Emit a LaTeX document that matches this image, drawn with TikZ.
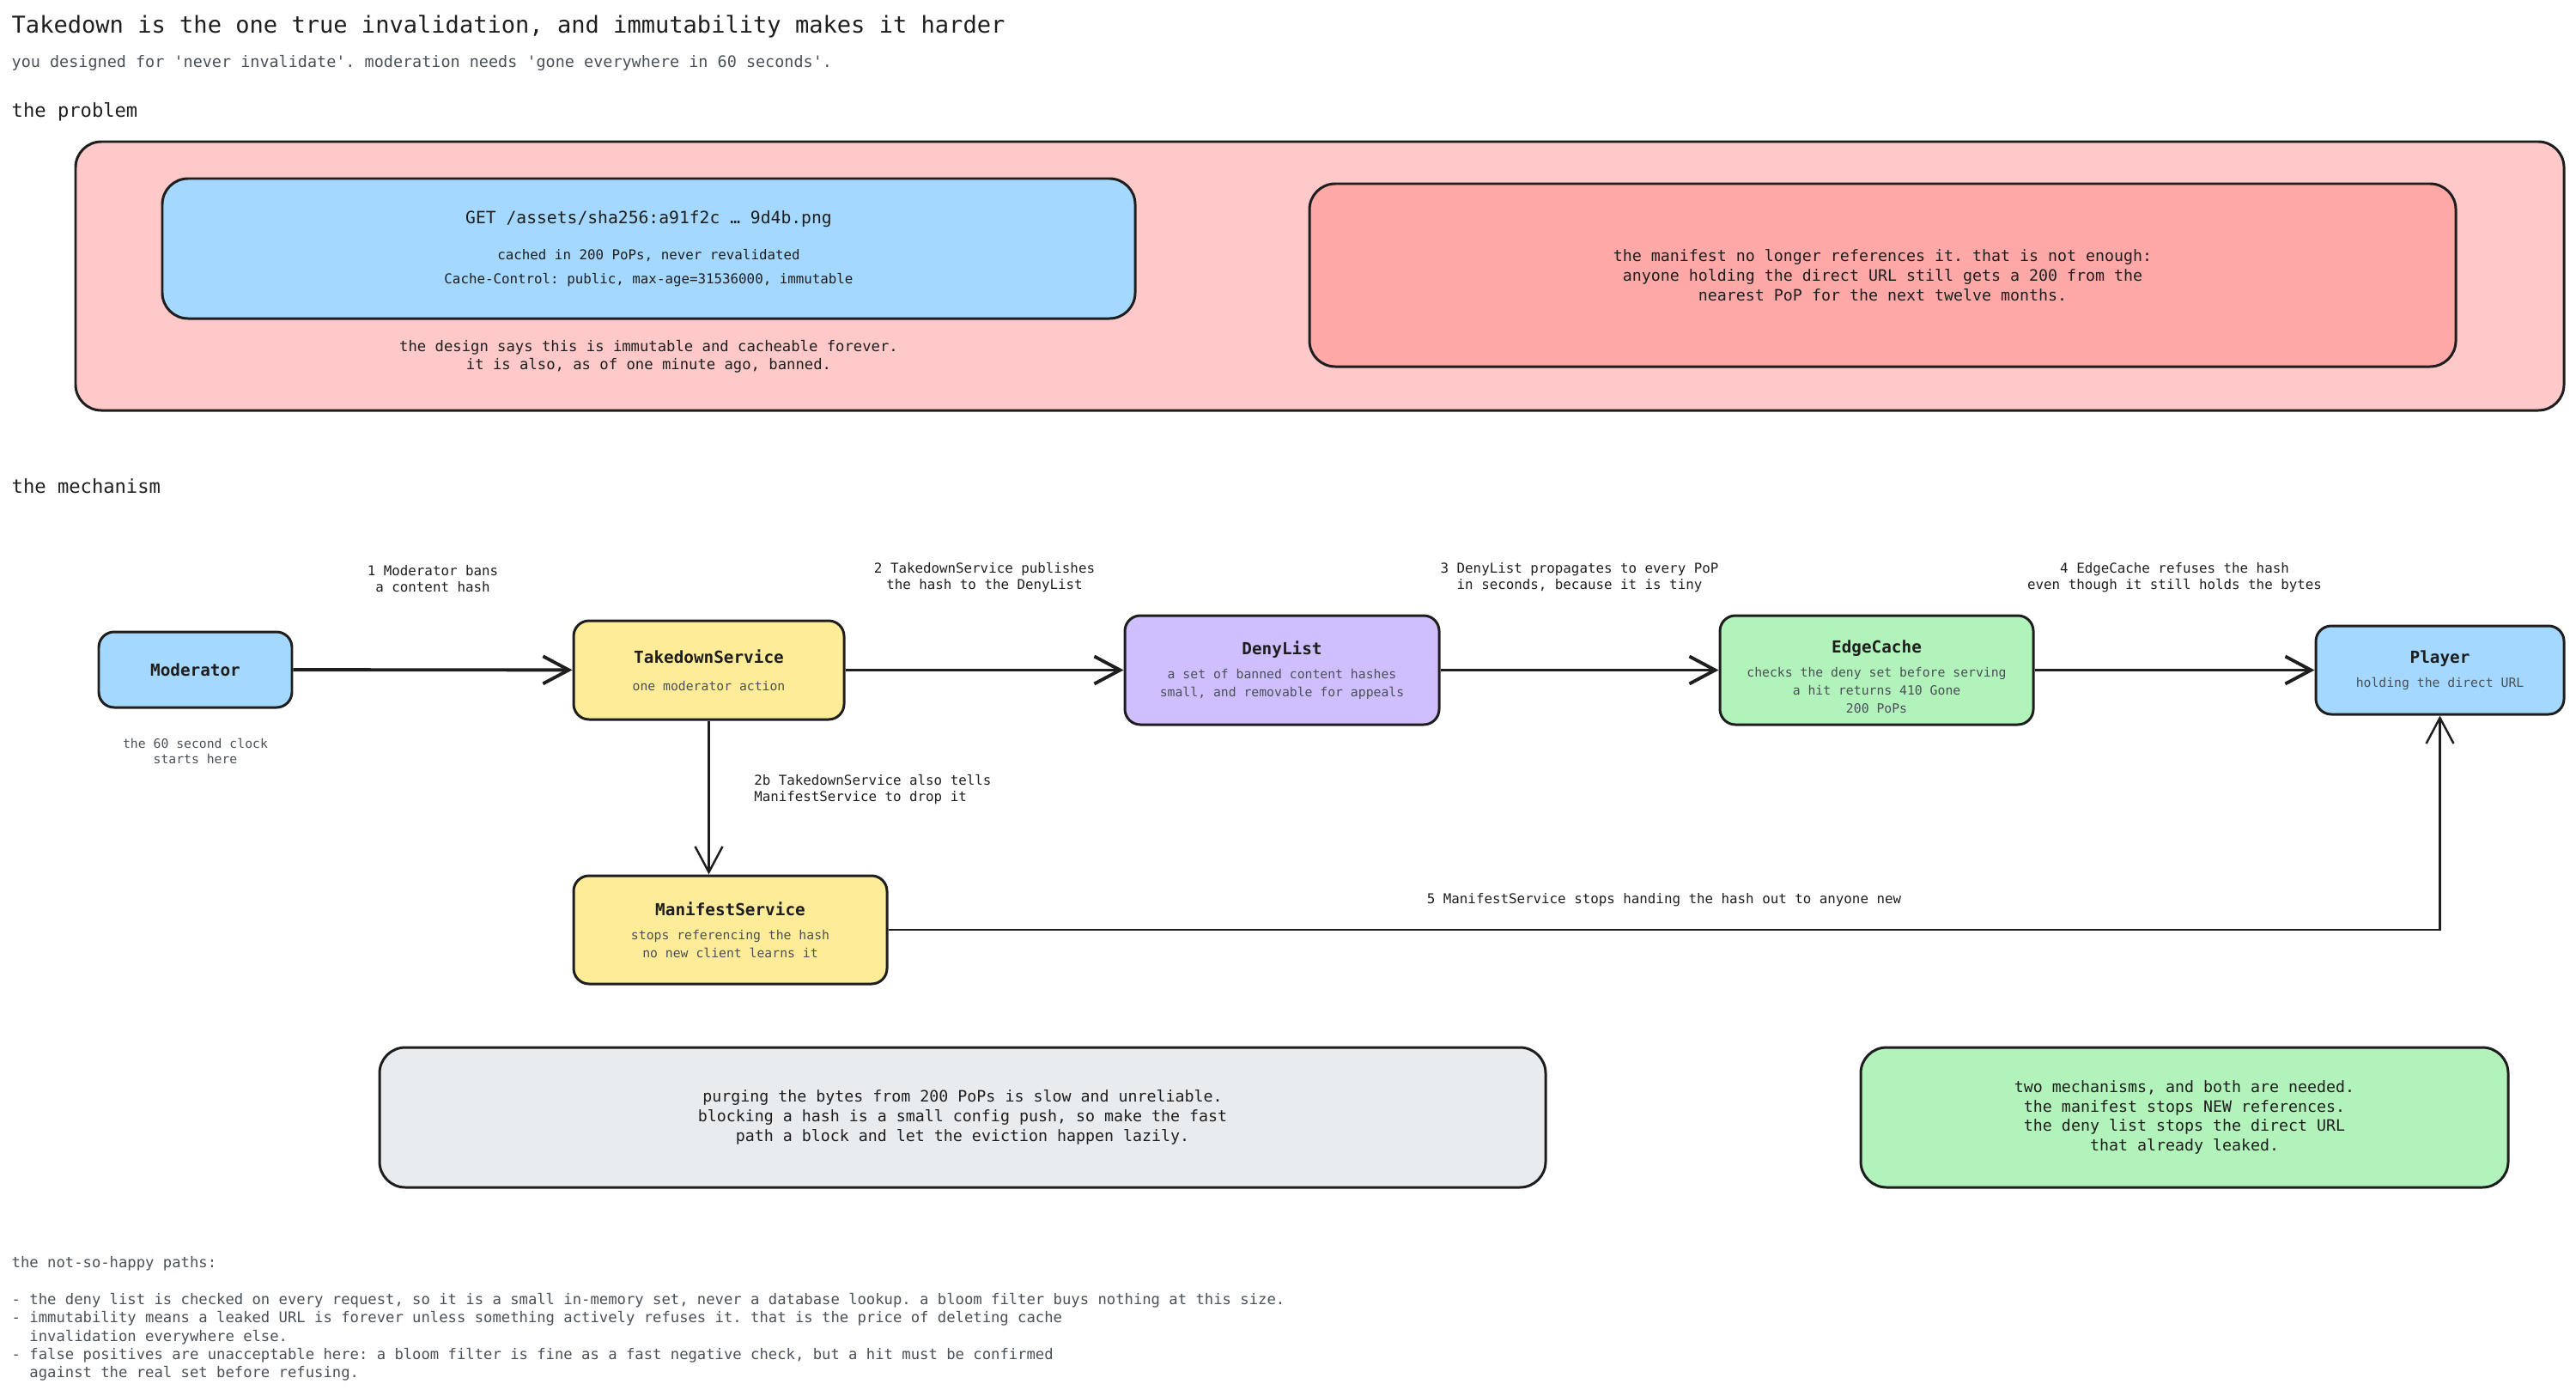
\documentclass[tikz,border=0pt]{standalone}
\usepackage{fontspec}
\setmainfont{DejaVu Sans Mono}
\usetikzlibrary{positioning,arrows.meta}
\definecolor{ink}{HTML}{1E1E1E}
\definecolor{mute}{HTML}{495057}
\definecolor{cblue}{HTML}{A5D8FF}
\definecolor{cyellow}{HTML}{FFEC99}
\definecolor{cviolet}{HTML}{D0BFFF}
\definecolor{cgreen}{HTML}{B2F2BB}
\definecolor{cpink}{HTML}{FFC9C9}
\definecolor{cred}{HTML}{FFA8A8}
\definecolor{cgray}{HTML}{E9ECEF}
\tikzset{
  box/.style={draw=ink, line width=0.85pt, rounded corners=0.18cm, align=center, inner sep=0pt},
  bigbox/.style={box, rounded corners=0.3cm, text=ink, font=\fontsize{5.2}{6.5}\selectfont},
  svc/.style={box, text=mute, font=\fontsize{4.2}{6}\selectfont},
  lab/.style={align=center, inner sep=1pt, text=ink, font=\fontsize{4.5}{5.4}\selectfont},
  flow/.style={draw=ink, line width=1.1pt, -{Straight Barb[length=3mm,width=3.2mm]}},
}
\newcommand{\svcname}[1]{{\color{ink}\bfseries\fontsize{5.5}{6.6}\selectfont #1}}
\frenchspacing
\begin{document}
\begin{tikzpicture}
  \useasboundingbox (0,0) rectangle (30,-16.25);
  \node[anchor=west, inner sep=0pt, text=ink, font=\fontsize{7.7}{9}\selectfont] (title) at (0.13,-0.31) {Takedown is the one true invalidation, and immutability makes it harder}; %タイトル
  \node[anchor=west, inner sep=0pt, text=mute, font=\fontsize{5.25}{6.5}\selectfont] (subtitle) at (0.13,-0.73) {you designed for \textquotesingle never invalidate\textquotesingle. moderation needs \textquotesingle gone everywhere in 60 seconds\textquotesingle.};
  \node[anchor=west, inner sep=0pt, text=ink, font=\fontsize{6.3}{7.5}\selectfont] (probhead) at (0.13,-1.30) {the problem};
  \node[anchor=west, inner sep=0pt, text=ink, font=\fontsize{6.3}{7.5}\selectfont] (mechhead) at (0.13,-5.66) {the mechanism};

  \node[box, fill=cpink, rounded corners=0.3cm, minimum width=28.98cm, minimum height=3.13cm] (prob) at (15.37,-3.215) {}; %問題の枠
  \node[bigbox, fill=cblue, minimum width=11.33cm, minimum height=1.63cm, font=\fontsize{4.5}{8}\selectfont] (cdn) at (7.555,-2.895)
    {{\fontsize{5.6}{7}\selectfont GET /assets/sha256:a91f2c … 9d4b.png}\\[4pt]cached in 200 PoPs, never revalidated\\Cache-Control: public, max-age=31536000, immutable};
  \node[lab, below=0.2cm of cdn, font=\fontsize{4.9}{6}\selectfont] (banned) {the design says this is immutable and cacheable forever.\\it is also, as of one minute ago, banned.};
  \node[bigbox, fill=cred, minimum width=13.35cm, minimum height=2.13cm] (leak) at (21.925,-3.205)
    {the manifest no longer references it. that is not enough:\\anyone holding the direct URL still gets a 200 from the\\nearest PoP for the next twelve months.}; %赤い箱

  \node[svc, fill=cblue, minimum width=2.25cm, minimum height=0.88cm] (mod) at (2.275,-7.80) {\svcname{Moderator}};
  \node[lab, below=0.3cm of mod, text=mute, font=\fontsize{4.2}{5.3}\selectfont] (clock) {the 60 second clock\\starts here};
  \node[svc, fill=cyellow, minimum width=3.15cm, minimum height=1.15cm] (tkd) at (8.255,-7.805) {\svcname{TakedownService}\\[3pt]one moderator action};
  \node[svc, fill=cviolet, minimum width=3.66cm, minimum height=1.27cm] (deny) at (14.93,-7.805) {\svcname{DenyList}\\[2pt]a set of banned content hashes\\small, and removable for appeals};
  \node[svc, fill=cgreen, minimum width=3.65cm, minimum height=1.27cm] (edge) at (21.855,-7.805) {\svcname{\rule{0pt}{8.5pt}EdgeCache}\\[2pt]checks the deny set before serving\\a hit returns 410 Gone\\200 PoPs};
  \node[svc, fill=cblue, minimum width=2.89cm, minimum height=1.03cm] (player) at (28.415,-7.805) {\svcname{Player}\\[2pt]holding the direct URL};
  \node[svc, fill=cyellow, minimum width=3.65cm, minimum height=1.26cm] (mfst) at (8.505,-10.83) {\svcname{ManifestService}\\[2pt]stops referencing the hash\\no new client learns it};

  \draw[flow] (mod) -- node[lab, above=0.85cm] {1 Moderator bans\\a content hash} (tkd); %1
  \draw[flow] (tkd) -- node[lab, above=0.85cm] {2 TakedownService publishes\\the hash to the DenyList} (deny); %2
  \draw[flow] (deny) -- node[lab, above=0.85cm] {3 DenyList propagates to every PoP\\in seconds, because it is tiny} (edge); %3
  \draw[flow] (edge) -- node[lab, above=0.85cm] {4 EdgeCache refuses the hash\\even though it still holds the bytes} (player); %4
  \draw[flow, line width=0.7pt] (tkd.south) -- node[lab, right=0.48cm, align=left, pos=0.45] {2b TakedownService also tells\\ManifestService to drop it} (tkd.south |- mfst.north); %2b
  \draw[flow, line width=0.7pt] (mfst.east) -| node[lab, pos=0.25, above=0.22cm] {5 ManifestService stops handing the hash out to anyone new} (player.south); %5

  \node[bigbox, fill=cgray, minimum width=13.58cm, minimum height=1.63cm] (purge) at (11.21,-13.015)
    {purging the bytes from 200 PoPs is slow and unreliable.\\blocking a hash is a small config push, so make the fast\\path a block and let the eviction happen lazily.};
  \node[bigbox, fill=cgreen, minimum width=7.54cm, minimum height=1.63cm] (both) at (25.44,-13.015)
    {two mechanisms, and both are needed.\\the manifest stops NEW references.\\the deny list stops the direct URL\\that already leaked.};

  \node[anchor=north west, align=left, inner sep=0pt, text=mute, font=\fontsize{4.9}{6.07}\selectfont] (notes) at (0.13,-14.63)
    {the not-so-happy paths:\\[6.07pt]
     - the deny list is checked on every request, so it is a small in-memory set, never a database lookup. a bloom filter buys nothing at this size.\\
     - immutability means a leaked URL is forever unless something actively refuses it. that is the price of deleting cache\\
     \phantom{- }invalidation everywhere else.\\
     - false positives are unacceptable here: a bloom filter is fine as a fast negative check, but a hit must be confirmed\\
     \phantom{- }against the real set before refusing.}; %下の注
\end{tikzpicture}
\end{document}
